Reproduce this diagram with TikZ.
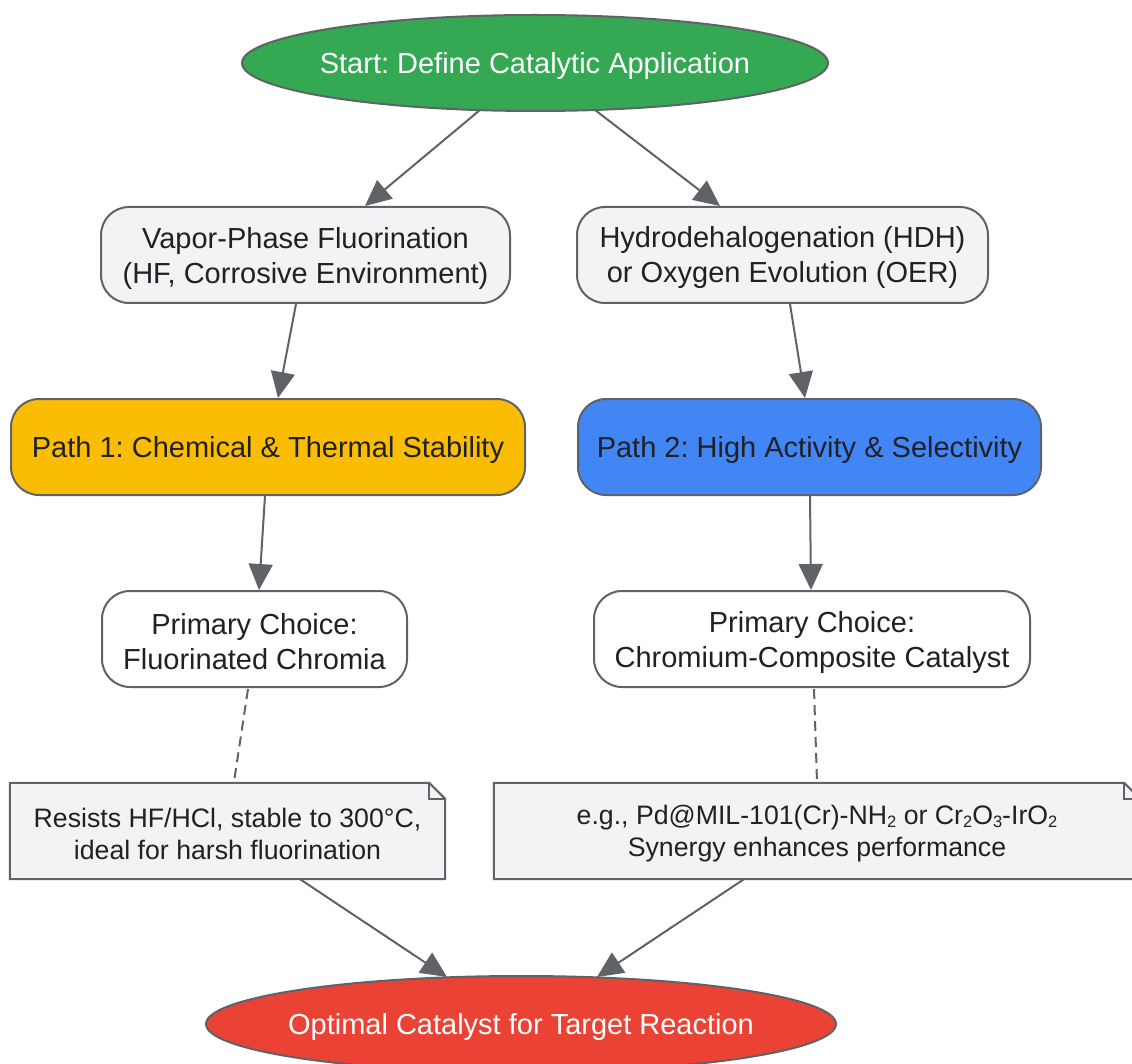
\documentclass[tikz,border=0pt]{standalone}
\usepackage{fontspec}
\setmainfont{Liberation Sans}
\usetikzlibrary{arrows.meta,shapes.geometric,calc}
\definecolor{edgec}{RGB}{95,99,104}
\definecolor{txt}{RGB}{32,33,36}
\definecolor{gfill}{RGB}{52,168,83}
\definecolor{rfill}{RGB}{234,67,53}
\definecolor{yfill}{RGB}{251,188,4}
\definecolor{bfill}{RGB}{66,133,244}
\definecolor{lgrey}{RGB}{241,243,244}
\newcommand{\lowsub}[1]{\raisebox{-0.15ex}{\fontsize{16.5}{16.5}\selectfont #1}}
\frenchspacing
\begin{document}
\begin{tikzpicture}[x=1pt,y=-1pt,
  base/.style={draw=edgec, line width=2pt, inner sep=0pt},
  term/.style={base, ellipse, minimum width=586pt, minimum height=96pt},
  lbl/.style={text=white, font=\fontsize{29}{35}\selectfont, inner sep=0pt, yshift=-3pt},
  txtl/.style={text=txt, align=center, font=\fontsize{29}{35}\selectfont, inner sep=0pt, yshift=-3pt},
  ntxt/.style={text=txt, align=center, font=\fontsize{26.7}{32}\selectfont, inner sep=0pt, yshift=-3pt},
  rbox/.style={base, rectangle, rounded corners=28pt, minimum height=96pt},
  notebox/.style={rectangle, inner sep=0pt, minimum height=96pt},
  arr/.style={draw=edgec, line width=2pt, -{Triangle[length=26pt,width=24pt]}},
  dsh/.style={draw=edgec, line width=2pt, dash pattern=on 10pt off 6pt}
]
\useasboundingbox (0,0) rectangle (1132,1064);
\clip (0,0) rectangle (1132,1064);

% terminals
\node[term, fill=gfill] (start) at (535,63) {};
\node[lbl] (startl) at (start.center) {Start: Define Catalytic Application};
\node[term, fill=rfill, minimum width=630pt] (end) at (521,1024) {};
\node[lbl] (endl) at (end.center) {Optimal Catalyst for Target Reaction};

% boxes
\node[rbox, fill=lgrey, minimum width=409pt] (vapor) at (305.5,255) {};
\node[txtl] (vaporl) at (vapor.center) {Vapor-Phase Fluorination\\(HF, Corrosive Environment)};
\node[rbox, fill=lgrey, minimum width=411pt] (hydro) at (782.5,255) {};
\node[txtl] (hydrol) at (hydro.center) {Hydrodehalogenation (HDH)\\or Oxygen Evolution (OER)};
\node[rbox, fill=yfill, minimum width=514pt] (path1) at (268,447) {};
\node[txtl] (path1l) at (path1.center) {Path 1: Chemical \& Thermal Stability};
\node[rbox, fill=bfill, minimum width=463pt] (path2) at (809.5,447) {};
\node[txtl] (path2l) at (path2.center) {Path 2: High Activity \& Selectivity};
\node[rbox, fill=white, minimum width=305pt] (prim1) at (254.5,639) {};
\node[txtl] (prim1l) at (prim1.center) {Primary Choice:\\Fluorinated Chromia};
\node[rbox, fill=white, minimum width=436pt] (prim2) at (812,639) {};
\node[txtl] (prim2l) at (prim2.center) {Primary Choice:\\Chromium-Composite Catalyst};

% notes
\node[notebox, minimum width=435pt] (note1) at (227.5,831) {};
\node[notebox, minimum width=646pt] (note2) at (817,831) {};
\foreach \n in {note1,note2}{
  \fill[lgrey] (\n.north west) -- ($(\n.north east)+(-16,0)$) -- ($(\n.north east)+(0,16)$) -- (\n.south east) -- (\n.south west) -- cycle;
  \draw[edgec, line width=2pt, line join=miter] (\n.north west) -- ($(\n.north east)+(-16,0)$) -- ($(\n.north east)+(0,16)$) -- (\n.south east) -- (\n.south west) -- cycle;
  \draw[edgec, line width=2pt] ($(\n.north east)+(-16,0)$) -- ($(\n.north east)+(-16,16)$) -- ($(\n.north east)+(0,16)$);
}
\node[ntxt] (note1t) at (note1.center) {Resists HF/HCl, stable to 300°C,\\ideal for harsh fluorination};
\node[ntxt] (note2t) at (note2.center) {e.g., Pd@MIL-101(Cr)-NH\lowsub{2} or Cr\lowsub{2}O\lowsub{3}-IrO\lowsub{2}\\Synergy enhances performance};

% connectors
\draw[arr] ($(start.center)+(-55,47)$) -- ($(vapor.north)+(59.5,0)$);
\draw[arr] ($(start.center)+(60,47)$) -- ($(hydro.north)+(-62.5,0)$);
\draw[arr] ($(vapor.south)+(-9.5,0)$) -- ($(path1.north)+(10,0)$);
\draw[arr] ($(hydro.south)+(7.5,0)$) -- ($(path2.north)+(-4.5,0)$);
\draw[arr] ($(path1.south)+(-3,0)$) -- ($(prim1.north)+(4.5,0)$);
\draw[arr] ($(path2.south)+(0.5,0)$) -- ($(prim2.north)+(-1,0)$);
\draw[dsh] ($(prim1.south)+(-6.5,1)$) -- ($(note1.north)+(6.5,-1)$);
\draw[dsh] ($(prim2.south)+(2,1)$) -- ($(note2.north)+(0,-1)$);
\draw[arr] ($(note1.south)+(72.5,0)$) -- ($(end.center)+(-74,-47)$);
\draw[arr] ($(note2.south)+(-73,0)$) -- ($(end.center)+(76,-47)$);
\end{tikzpicture}
\end{document}
